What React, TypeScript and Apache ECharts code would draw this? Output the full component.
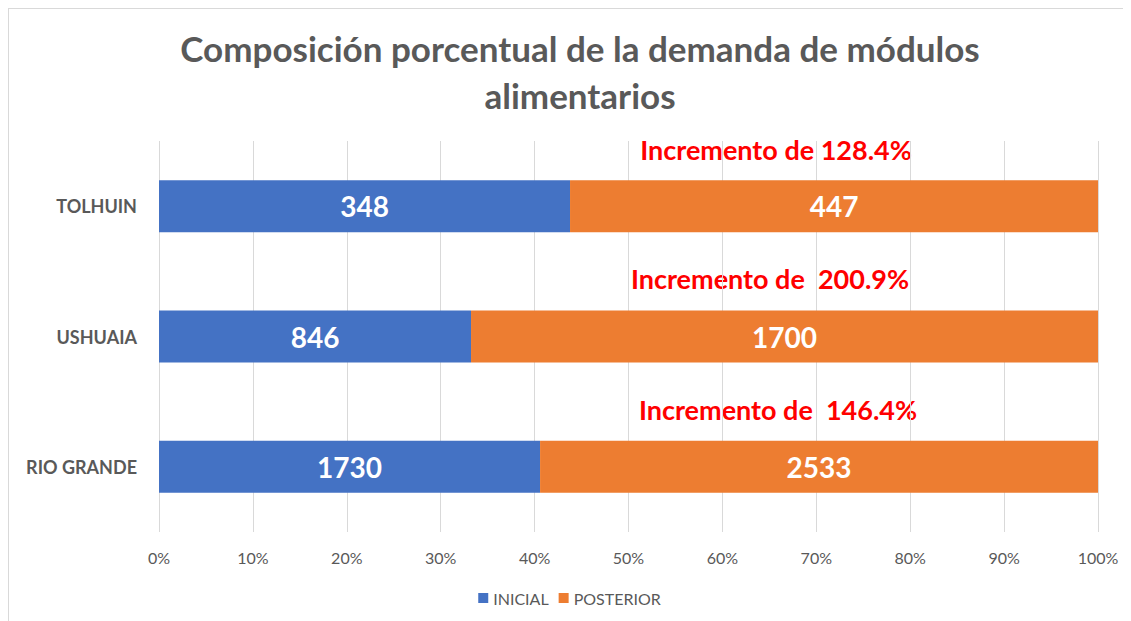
import React, { useEffect, useRef } from "react";
import * as echarts from "echarts";

const categories = ["RIO GRANDE", "USHUAIA", "TOLHUIN"];
const inicial = [1730, 846, 348];
const posterior = [2533, 1700, 447];
const annotations = ["Incremento de  146.4%", "Incremento de  200.9%", "Incremento de 128.4%"];
const titleText = "Composición porcentual de la demanda de módulos\nalimentarios";

const FONT = "Lato, 'Open Sans', sans-serif";

export default function App() {
  const ref = useRef<HTMLDivElement>(null);
  useEffect(() => {
    if (!ref.current) return;
    const chart = echarts.init(ref.current, null, { renderer: "svg" });
    const totals = inicial.map((v, i) => v + posterior[i]);
    const pctA = inicial.map((v, i) => (v / totals[i]) * 100);
    const pctB = posterior.map((v, i) => (v / totals[i]) * 100);
    const annPos = [
      { x: 770, y: 401 },
      { x: 762, y: 270 },
      { x: 768, y: 141 },
    ];
    chart.setOption({
      animation: false,
      backgroundColor: "#ffffff",
      title: {
        text: titleText,
        left: 567,
        textAlign: "center",
        top: 11,
        textStyle: {
          fontFamily: FONT,
          fontWeight: "bold",
          fontSize: 35,
          color: "#595959",
          lineHeight: 47,
        },
      },
      legend: {
        bottom: 10,
        left: "center",
        itemWidth: 10,
        itemHeight: 10,
        itemGap: 10,
        icon: "rect",
        textStyle: { fontFamily: FONT, fontSize: 16, color: "#595959" },
        data: ["INICIAL", "POSTERIOR"],
      },
      grid: { left: 151, right: 33, top: 133, bottom: 89 },
      xAxis: {
        type: "value",
        min: 0,
        max: 100,
        interval: 10,
        axisLine: { show: false },
        axisTick: { show: false },
        splitLine: { lineStyle: { color: "#d9d9d9", width: 1 } },
        axisLabel: {
          formatter: "{value}%",
          fontFamily: FONT,
          fontSize: 16,
          color: "#595959",
          margin: 17,
        },
      },
      yAxis: {
        type: "category",
        data: categories,
        axisLine: { show: false },
        axisTick: { show: false },
        axisLabel: {
          fontFamily: FONT,
          fontWeight: "bold",
          fontSize: 18,
          color: "#595959",
          margin: 22,
        },
      },
      series: [
        {
          name: "INICIAL",
          type: "bar",
          stack: "total",
          barWidth: 52,
          itemStyle: { color: "#4472C4" },
          data: pctA,
          label: {
            show: true,
            position: "inside",
            formatter: (p: any) => String(inicial[p.dataIndex]),
            fontFamily: FONT,
            fontWeight: "bold",
            fontSize: 28,
            color: "#ffffff",
          },
        },
        {
          name: "POSTERIOR",
          type: "bar",
          stack: "total",
          barWidth: 52,
          itemStyle: { color: "#ED7D31" },
          data: pctB,
          label: {
            show: true,
            position: "inside",
            formatter: (p: any) => String(posterior[p.dataIndex]),
            fontFamily: FONT,
            fontWeight: "bold",
            fontSize: 28,
            color: "#ffffff",
          },
        },
      ],
      graphic: [
        {
          type: "line",
          shape: { x1: 0, y1: 0.5, x2: 1123, y2: 0.5 },
          style: { stroke: "#d9d9d9", lineWidth: 1 },
        },
        {
          type: "line",
          shape: { x1: 0.5, y1: 0, x2: 0.5, y2: 613 },
          style: { stroke: "#d9d9d9", lineWidth: 1 },
        },
        ...annotations.map((t, i) => ({
          type: "text",
          x: annPos[i].x,
          y: annPos[i].y,
          style: {
            text: t,
            fill: "#ff0000",
            fontFamily: FONT,
            fontWeight: "bold",
            fontSize: 27,
            textAlign: "center",
            textVerticalAlign: "middle",
          },
        })),
      ],
    });
    return () => chart.dispose();
  }, []);
  return <div ref={ref} style={{ width: 1123, height: 613 }} />;
}
